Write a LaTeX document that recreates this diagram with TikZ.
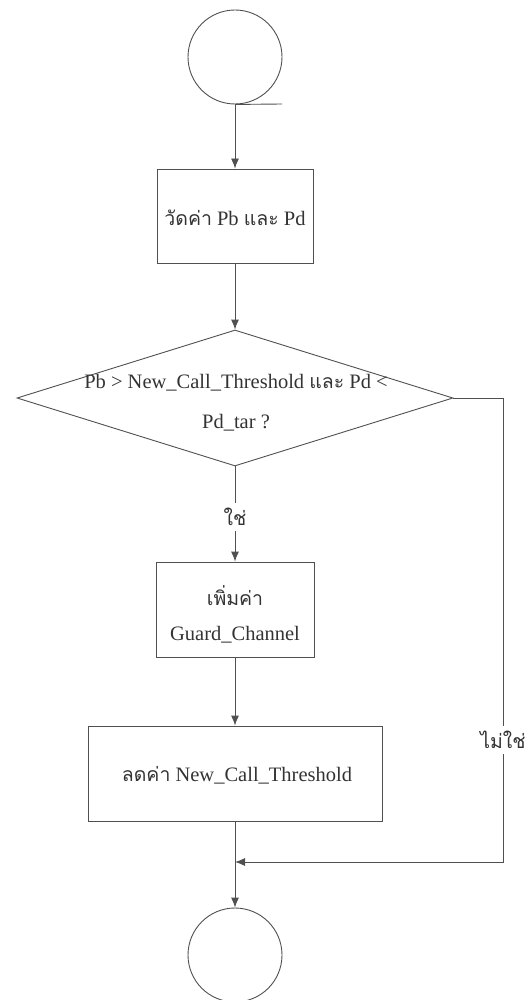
\documentclass[tikz,border=0pt]{standalone}
\usepackage{fontspec}
\setmainfont{Liberation Serif}
\newfontfamily\thai[Script=Thai,Scale=0.95]{Loma}
\usetikzlibrary{shapes.geometric,arrows.meta}
\definecolor{lineC}{HTML}{505050}
\definecolor{textC}{HTML}{333333}
\tikzset{
  conn/.style={draw=lineC, line width=0.9pt},
  arr/.style={conn, -{Latex[length=10pt,width=8pt]}},
  term/.style={circle, draw=lineC, line width=0.9pt, minimum size=94pt, inner sep=0pt},
  proc/.style={rectangle, draw=lineC, line width=0.9pt, inner sep=0pt},
  dec/.style={diamond, draw=lineC, line width=0.9pt, inner sep=0pt, minimum width=436pt, minimum height=136pt},
  txt/.style={text=textC, font=\fontsize{20.5}{35}\selectfont, align=center, inner sep=0pt},
  lab/.style={text=textC, font=\fontsize{20.5}{24}\selectfont, fill=white, inner sep=5pt}
}
\begin{document}
\begin{tikzpicture}[x=1pt,y=-1pt]
\useasboundingbox (0,0) rectangle (528,1000);
\node[term] (c1) at (235,57) {};
\node[proc, minimum width=156pt, minimum height=94pt] (b1) at (235,216) {};
\node[txt] (t1) at (235,218) {{\thai วัดค่า} Pb {\thai และ} Pd};
\node[dec] (d1) at (235,398) {};
\node[txt, font=\fontsize{20.5}{40}\selectfont] (t2) at (236,403) {Pb > New\_Call\_Threshold {\thai และ} Pd <\\Pd\_tar ?};
\node[proc, minimum width=158pt, minimum height=95pt] (b2) at (235,609.5) {};
\node[txt] (t3) at (235,614) {{\thai เพิ่มค่า}\\Guard\_Channel};
\node[proc, minimum width=294pt, minimum height=95pt] (b3) at (235,773.5) {};
\node[txt] (t4) at (237,775) {{\thai ลดค่า} New\_Call\_Threshold};
\node[term] (c2) at (235,955) {};
\coordinate (r1) at (503,398);
\coordinate (r2) at (503,862);
\coordinate (j) at (235,862);
\coordinate (tick) at (282,104);
% connectors
\draw[conn] (c1.south) -- (tick);
\draw[arr] (c1.south) -- (b1.north);
\draw[arr] (b1.south) -- (d1.north);
\draw[arr] (d1.south) -- node[lab, pos=0.53] {\thai ใช่} (b2.north);
\draw[arr] (b2.south) -- (b3.north);
\draw[arr] (b3.south) -- (c2.north);
\draw[arr] (d1.east) -- (r1) -- node[lab, pos=0.737] {\thai ไม่ใช่} (r2) -- (j);
\end{tikzpicture}
\end{document}
